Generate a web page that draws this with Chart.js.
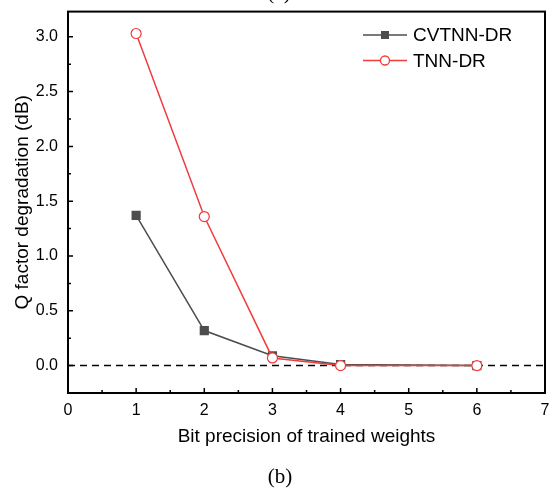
<!DOCTYPE html>
<html>
<head>
<meta charset="utf-8">
<script src="https://cdn.jsdelivr.net/npm/chart.js@4.4.0/dist/chart.umd.min.js"></script>
<style>
  html, body { margin: 0; padding: 0; background: #fff; }
  #wrap { width: 557px; height: 491px; }
</style>
</head>
<body>
<div id="wrap"><canvas id="chart" width="557" height="491"></canvas></div>
<script>
const bits = [1, 2, 3, 4, 6];
const cvtnnDr = [1.37, 0.32, 0.09, 0.01, 0.0];
const tnnDr = [3.03, 1.36, 0.07, 0.0, 0.0];
const xTicks = [0, 1, 2, 3, 4, 5, 6, 7];
const yTicks = [0, 0.5, 1.0, 1.5, 2.0, 2.5, 3.0];
const yMinor = [-0.25, 0.25, 0.75, 1.25, 1.75, 2.25, 2.75];
const xMinor = [0.5, 1.5, 2.5, 3.5, 4.5, 5.5, 6.5];

const FONT = "'Liberation Sans', Arial, sans-serif";

const toPoints = (xs, ys) => xs.map((x, i) => ({ x: x, y: ys[i] }));

// frame, inside ticks, zero reference line, legend and panel label
const decor = {
    id: "decor",
    beforeDatasetsDraw(chart) {
        const { ctx, chartArea: a, scales: { y } } = chart;
        const y0 = y.getPixelForValue(0);
        ctx.save();
        ctx.strokeStyle = "#000";
        ctx.lineWidth = 1.5;
        ctx.setLineDash([7, 5]);
        ctx.beginPath();
        ctx.moveTo(a.left, y0);
        ctx.lineTo(a.right, y0);
        ctx.stroke();
        ctx.restore();
    },
    afterDraw(chart) {
        const { ctx, chartArea: a, scales: { x, y } } = chart;
        ctx.save();
        ctx.strokeStyle = "#000";
        ctx.lineWidth = 1.5;
        ctx.beginPath();
        xTicks.forEach(v => {
            const px = x.getPixelForValue(v);
            ctx.moveTo(px, a.bottom); ctx.lineTo(px, a.bottom - 5);
        });
        xMinor.forEach(v => {
            const px = x.getPixelForValue(v);
            ctx.moveTo(px, a.bottom); ctx.lineTo(px, a.bottom - 3);
        });
        yTicks.forEach(v => {
            const py = y.getPixelForValue(v);
            ctx.moveTo(a.left, py); ctx.lineTo(a.left + 5, py);
        });
        yMinor.forEach(v => {
            const py = y.getPixelForValue(v);
            ctx.moveTo(a.left, py); ctx.lineTo(a.left + 3, py);
        });
        ctx.stroke();

        ctx.lineWidth = 2;
        ctx.strokeRect(a.left, a.top, a.right - a.left, a.bottom - a.top);

        // legend
        const lx = 363, lw = 44;
        ctx.font = "19px " + FONT;
        ctx.textBaseline = "middle";
        ctx.textAlign = "left";
        chart.data.datasets.forEach((ds, i) => {
            const ly = 35 + i * 25.5;
            ctx.strokeStyle = ds.borderColor;
            ctx.lineWidth = 1.3;
            ctx.beginPath();
            ctx.moveTo(lx, ly); ctx.lineTo(lx + lw, ly);
            ctx.stroke();
            const cx = lx + lw / 2;
            if (ds.pointStyle === "rect") {
                ctx.fillStyle = ds.pointBackgroundColor;
                ctx.fillRect(cx - 4, ly - 4, 8, 8);
            } else {
                ctx.fillStyle = "#fff";
                ctx.strokeStyle = ds.pointBorderColor;
                ctx.beginPath();
                ctx.arc(cx, ly, 4.5, 0, Math.PI * 2);
                ctx.fill(); ctx.stroke();
            }
            ctx.fillStyle = "#000";
            ctx.fillText(ds.label, lx + lw + 6, ly + 1);
        });

        // panel labels
        ctx.textAlign = "center";
        ctx.font = "21px 'Liberation Serif', 'Times New Roman', serif";
        ctx.fillText("(b)", 280, 477);
        ctx.fillText("(a)", 279, -7);
        ctx.restore();
    }
};

new Chart(document.getElementById("chart"), {
    type: "line",
    data: {
        datasets: [
            {
                label: "CVTNN-DR",
                data: toPoints(bits, cvtnnDr),
                borderColor: "#4d4d4d",
                borderWidth: 1.5,
                pointStyle: "rect",
                pointRadius: 6.5,
                pointBackgroundColor: "#4d4d4d",
                pointBorderColor: "#4d4d4d",
                pointBorderWidth: 0,
                order: 2
            },
            {
                label: "TNN-DR",
                data: toPoints(bits, tnnDr),
                borderColor: "#f03c3c",
                borderWidth: 1.5,
                pointStyle: "circle",
                pointRadius: 5,
                pointBackgroundColor: "#fff",
                pointBorderColor: "#f03c3c",
                pointBorderWidth: 1.2,
                order: 1
            }
        ]
    },
    options: {
        responsive: false,
        animation: false,
        events: [],
        layout: { padding: { left: 0, top: 0, right: 12, bottom: 0 } },
        plugins: { legend: { display: false }, tooltip: { enabled: false } },
        scales: {
            x: {
                type: "linear",
                min: 0,
                max: 7,
                afterBuildTicks: s => { s.ticks = xTicks.map(v => ({ value: v })); },
                afterFit: s => { s.height = 98; },
                grid: { display: false },
                border: { display: false },
                ticks: {
                    color: "#000",
                    font: { family: FONT, size: 16 },
                    padding: 0,
                    maxRotation: 0
                },
                title: {
                    display: true,
                    text: "Bit precision of trained weights",
                    color: "#000",
                    font: { family: FONT, size: 19 },
                    padding: { top: 0, bottom: 43 }
                }
            },
            y: {
                min: -0.25,
                max: 3.23,
                afterBuildTicks: s => { s.ticks = yTicks.map(v => ({ value: v })); },
                afterFit: s => { s.width = 68; },
                grid: { display: false },
                border: { display: false },
                ticks: {
                    color: "#000",
                    font: { family: FONT, size: 16 },
                    padding: 2,
                    callback: v => v.toFixed(1)
                },
                title: {
                    display: true,
                    text: "Q factor degradation (dB)",
                    color: "#000",
                    font: { family: FONT, size: 19 },
                    padding: { top: 11, bottom: 0 }
                }
            }
        }
    },
    plugins: [decor]
});
</script>
</body>
</html>
